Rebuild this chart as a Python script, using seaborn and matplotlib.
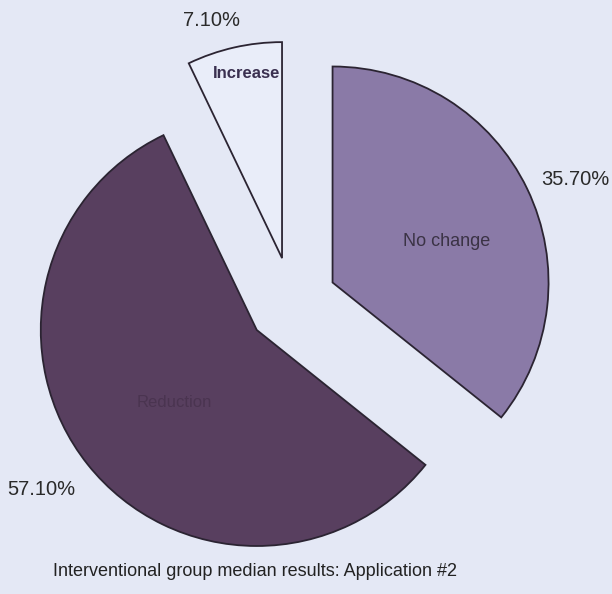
import matplotlib
matplotlib.use("Agg")
import matplotlib.pyplot as plt
import numpy as np
import seaborn as sns

categories = ["No change", "Reduction", "Increase"]
values = [35.7, 57.1, 7.1]
pct_labels = ["35.70%", "57.10%", "7.10%"]
title = "Interventional group median results: Application #2"

sns.set_theme(style="white")
plt.rcParams["font.family"] = ["Liberation Sans", "DejaVu Sans"]

bg = "#e4e8f5"
colors = ["#8a7aa7", "#583f5f", "#e9edf9"]
edge = "#2b2432"

W, H = 612, 594
fig = plt.figure(figsize=(W / 100, H / 100), dpi=100, facecolor=bg)
ax = fig.add_axes([0, 0, 1, 1])
ax.set_facecolor(bg)

radius = 216
wedges, _ = ax.pie(
    values,
    colors=colors,
    startangle=90,
    counterclock=False,
    radius=radius,
    center=(292, H - 302),
    explode=[45, 45, 45],
    wedgeprops=dict(edgecolor=edge, linewidth=1.3),
)


def polar(w, frac, dang):
    cx, cy = w.center
    ang = np.deg2rad((w.theta1 + w.theta2) / 2 + dang)
    return cx + frac * w.r * np.cos(ang), cy + frac * w.r * np.sin(ang)


# percentage labels outside each wedge
outer = {"No change": (1.22, -2.6), "Reduction": (1.24, -2.0), "Increase": (1.145, 3.7)}
# category names inside each wedge
inner = {"No change": (0.56, -6, 13, "#3b3345", "normal"),
         "Reduction": (0.51, 3, 12, "#4a3450", "normal"),
         "Increase": (0.87, -2, 12, "#3a3050", "bold")}

for w, name, pct in zip(wedges, categories, pct_labels):
    frac, dang = outer[name]
    x, y = polar(w, frac, dang)
    ax.text(x, y, pct, ha="center", va="center", fontsize=14.5, color="#2a2a2a")
    frac, dang, fs, col, wt = inner[name]
    x, y = polar(w, frac, dang)
    ax.text(x, y, name, ha="center", va="center", fontsize=fs, color=col, fontweight=wt)

ax.set_xlim(0, W)
ax.set_ylim(0, H)
ax.set_aspect("equal")
ax.axis("off")

fig.text(255 / W, 1 - 572 / H, title, ha="center", va="center",
         fontsize=13, color="#222222")

fig.savefig("out.png", dpi=100, facecolor=bg)
